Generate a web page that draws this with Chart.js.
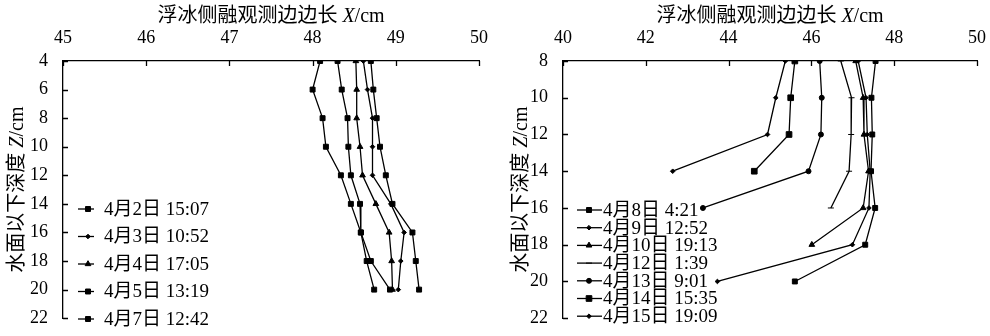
<!DOCTYPE html>
<html>
<head>
<meta charset="utf-8">
<script src="https://cdn.jsdelivr.net/npm/chart.js@4.4.0/dist/chart.umd.min.js"></script>
<style>
  body { margin: 0; background: #fff; }
  .panel { position: absolute; top: 0; width: 495px; height: 336px; }
  #left { left: 0; }
  #right { left: 495px; }
</style>
</head>
<body>
<div class="panel" id="left"><canvas id="chartLeft"></canvas></div>
<div class="panel" id="right"><canvas id="chartRight"></canvas></div>
<script>
// left panel: depth below water Z (cm) and floe side length X (cm)
const depthsLeft = [4, 6, 8, 10, 12, 14, 16, 18, 20];
const namesLeft = ['4月2日 15:07', '4月3日 10:52', '4月4日 17:05', '4月5日 13:19', '4月7日 12:42'];
const apr02 = [48.70, 48.73, 48.77, 48.81, 48.88, 48.96, 49.20, 49.24, 49.28];
const apr03 = [48.61, 48.66, 48.72, 48.72, 48.72, 48.94, 49.10, 49.06, 49.03];
const apr04 = [48.52, 48.53, 48.53, 48.57, 48.60, 48.76, 48.92, 48.95, 48.96];
const apr05 = [48.30, 48.35, 48.42, 48.43, 48.46, 48.57, 48.58, 48.70, 48.93];
const apr07 = [48.09, 48.00, 48.12, 48.16, 48.34, 48.46, 48.58, 48.65, 48.74];
const xTicksLeft = [45, 46, 47, 48, 49, 50];
const yTicksLeft = [4, 6, 8, 10, 12, 14, 16, 18, 20, 22];

// right panel
const depthsRight = [8, 10, 12, 14, 16, 18, 20];
const namesRight = ['4月8日 4:21', '4月9日 12:52', '4月10日 19:13', '4月12日 1:39', '4月13日 9:01', '4月14日 15:35', '4月15日 19:09'];
const apr08 = [47.55, 47.45, 47.47, 47.44, 47.54, 47.30, 45.60];
const apr09 = [47.13, 47.32, 47.35, 47.42, 47.39, 46.99, 43.73];
const apr10 = [47.07, 47.25, 47.27, 47.38, 47.25, 46.01];
const apr12 = [46.71, 46.97, 46.96, 46.91, 46.47];
const apr13 = [46.20, 46.25, 46.23, 45.93, 43.38];
const apr14 = [45.60, 45.50, 45.46, 44.62];
const apr15 = [45.37, 45.14, 44.94, 42.65];
const xTicksRight = [40, 42, 44, 46, 48, 50];
const yTicksRight = [8, 10, 12, 14, 16, 18, 20, 22];

const FONT = '"Liberation Serif", "Times New Roman", "Noto Sans CJK SC", serif';
const INK = '#000';

function pts(xs, depths) {
  return xs.map((v, i) => ({ x: v, y: depths[i] }));
}

function series(label, xs, depths, style, radius) {
  return {
    label: label,
    data: pts(xs, depths),
    showLine: true,
    borderColor: INK,
    backgroundColor: INK,
    borderWidth: 1.3,
    pointStyle: style,
    pointRadius: radius,
    pointBorderWidth: 1,
    pointBorderColor: INK,
    pointBackgroundColor: INK
  };
}

// axis titles with italic variable letter
const titlePlugin = {
  id: 'titles',
  afterDraw(chart, args, opts) {
    const ctx = chart.ctx;
    const a = chart.chartArea;
    const drawParts = (parts) => {
      let w = 0;
      parts.forEach(p => { ctx.font = p[1] + ' 20px ' + FONT; w += ctx.measureText(p[0]).width; });
      let x = -w / 2;
      parts.forEach(p => {
        ctx.font = p[1] + ' 20px ' + FONT;
        ctx.fillText(p[0], x, 0);
        x += ctx.measureText(p[0]).width;
      });
    };
    ctx.save();
    ctx.fillStyle = INK;
    ctx.textBaseline = 'middle';
    ctx.textAlign = 'left';
    ctx.translate((a.left + a.right) / 2, 17);
    drawParts([['浮冰侧融观测边边长 ', 'normal'], ['X', 'italic'], ['/cm', 'normal']]);
    ctx.restore();
    ctx.save();
    ctx.fillStyle = INK;
    ctx.textBaseline = 'middle';
    ctx.textAlign = 'left';
    ctx.translate(opts.yTitleX, (a.top + a.bottom) / 2);
    ctx.rotate(-Math.PI / 2);
    drawParts([['水面以下深度 ', 'normal'], ['Z', 'italic'], ['/cm', 'normal']]);
    ctx.restore();
  }
};

// short tick marks pointing into the plot
const innerTicks = {
  id: 'innerTicks',
  afterDraw(chart) {
    const ctx = chart.ctx;
    const a = chart.chartArea;
    const sx = chart.scales.x, sy = chart.scales.y;
    ctx.save();
    ctx.strokeStyle = INK;
    ctx.lineWidth = 1.3;
    ctx.beginPath();
    sx.ticks.forEach(t => {
      const px = Math.round(sx.getPixelForValue(t.value)) + 0.5;
      ctx.moveTo(px, a.top);
      ctx.lineTo(px, a.top + 5);
    });
    sy.ticks.forEach(t => {
      const py = Math.round(sy.getPixelForValue(t.value)) + 0.5;
      ctx.moveTo(a.left, py);
      ctx.lineTo(a.left + 5, py);
    });
    ctx.stroke();
    ctx.restore();
  }
};

// legend inside the plot: short line, marker, label
const insideLegend = {
  id: 'insideLegend',
  afterDraw(chart, args, opts) {
    const ctx = chart.ctx;
    const a = chart.chartArea;
    ctx.save();
    ctx.font = '19px ' + FONT;
    ctx.textBaseline = 'middle';
    ctx.textAlign = 'left';
    chart.data.datasets.forEach((ds, i) => {
      const y = opts.top + i * opts.step;
      ctx.strokeStyle = INK;
      ctx.fillStyle = INK;
      ctx.lineWidth = 1.3;
      ctx.beginPath();
      ctx.moveTo(a.left + opts.x0, y);
      ctx.lineTo(a.left + opts.x1, y);
      ctx.stroke();
      ctx.lineWidth = 1;
      Chart.helpers.drawPoint(ctx, { pointStyle: ds.pointStyle, radius: ds.pointRadius, rotation: 0, borderWidth: 1 }, a.left + opts.xm, y);
      ctx.fillText(ds.label, a.left + opts.xt, y + 1);
    });
    ctx.restore();
  }
};

function makeChart(id, datasets, xMin, xMax, xStep, yMin, yMax, yWidth, pad, legend, yTitleX) {
  return new Chart(document.getElementById(id), {
    type: 'scatter',
    data: { datasets: datasets },
    options: {
      responsive: true,
      maintainAspectRatio: false,
      animation: false,
      layout: { padding: pad },
      plugins: {
        legend: { display: false },
        tooltip: { enabled: false },
        titles: { yTitleX: yTitleX },
        insideLegend: legend
      },
      scales: {
        x: {
          type: 'linear',
          position: 'top',
          min: xMin,
          max: xMax,
          grid: { display: false },
          border: { display: true, color: INK, width: 1.3 },
          ticks: { stepSize: xStep, color: INK, padding: 4, font: { family: FONT, size: 18 } },
          afterFit(s) { s.height = 61; }
        },
        y: {
          type: 'linear',
          reverse: true,
          min: yMin,
          max: yMax,
          grid: { display: false },
          border: { display: true, color: INK, width: 1.3 },
          ticks: { stepSize: 2, color: INK, padding: 7, font: { family: FONT, size: 18 } },
          afterFit(s) { s.width = yWidth; }
        }
      }
    },
    plugins: [titlePlugin, innerTicks, insideLegend]
  });
}

const leftSets = [
  series(namesLeft[0], apr02, depthsLeft, 'rect', 3.5),
  series(namesLeft[1], apr03, depthsLeft, 'rectRot', 2.3),
  series(namesLeft[2], apr04, depthsLeft, 'triangle', 3.3),
  series(namesLeft[3], apr05, depthsLeft, 'rect', 3.5),
  series(namesLeft[4], apr07, depthsLeft, 'rect', 3.5)
];

const rightSets = [
  series(namesRight[0], apr08, depthsRight, 'rect', 3.5),
  series(namesRight[1], apr09, depthsRight, 'rectRot', 2.3),
  series(namesRight[2], apr10, depthsRight, 'triangle', 3.3),
  series(namesRight[3], apr12, depthsRight, 'line', 3),
  series(namesRight[4], apr13, depthsRight, 'circle', 2.5),
  series(namesRight[5], apr14, depthsRight, 'rect', 4),
  series(namesRight[6], apr15, depthsRight, 'rectRot', 2.3)
];

makeChart('chartLeft', leftSets, xTicksLeft[0], xTicksLeft[xTicksLeft.length - 1], 1,
  yTicksLeft[0], yTicksLeft[yTicksLeft.length - 1], 63,
  { top: 0, left: 0, right: 16, bottom: 12 },
  { top: 209, step: 27.5, x0: 15, x1: 31, xm: 25, xt: 41 }, 18);

makeChart('chartRight', rightSets, xTicksRight[0], xTicksRight[xTicksRight.length - 1], 2,
  yTicksRight[0], yTicksRight[yTicksRight.length - 1], 68,
  { top: 0, left: 0, right: 12, bottom: 16 },
  { top: 210, step: 17.7, x0: 14, x1: 39, xm: 26, xt: 40 }, 27);
</script>
</body>
</html>
